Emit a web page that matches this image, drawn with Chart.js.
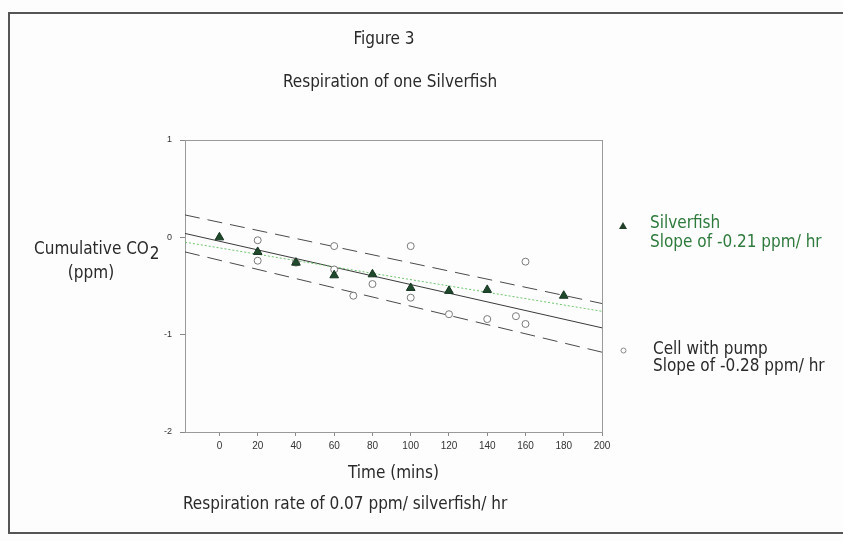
<!DOCTYPE html>
<html>
<head>
<meta charset="utf-8">
<script src="https://cdn.jsdelivr.net/npm/chart.js@4/dist/chart.umd.min.js"></script>
<style>
  html, body { margin: 0; padding: 0; background: #fdfdfd; }
  #wrap { position: relative; width: 843px; height: 541px; }
  #frame { position: absolute; left: 8px; top: 12px; width: 860px; height: 522px;
           border-left: 2px solid #555; border-top: 2px solid #555; border-bottom: 2px solid #555; box-sizing: border-box; }
  canvas { position: absolute; left: 0; top: 0; }
</style>
</head>
<body>
<div id="wrap">
  <div id="frame"></div>
  <canvas id="c" width="843" height="541"></canvas>
</div>
<script>
// ---- data ----
const xTickValues = [0, 20, 40, 60, 80, 100, 120, 140, 160, 180, 200];
const yTickValues = [-2, -1, 0, 1];

const silverfishTime = [0, 20, 40, 60, 80, 100, 120, 140, 180];
const silverfishCO2  = [0, -0.15, -0.26, -0.39, -0.38, -0.52, -0.55, -0.54, -0.60];

const cellTime = [20, 20, 40, 60, 60, 70, 80, 100, 100, 120, 140, 155, 160, 160];
const cellCO2  = [-0.03, -0.24, -0.26, -0.09, -0.33, -0.60, -0.48, -0.09, -0.62, -0.79, -0.84, -0.81, -0.25, -0.89];

const fitTime       = [-18, 200];
const cellFit       = [0.04, -0.93];
const cellUpper     = [0.23, -0.68];
const cellLower     = [-0.15, -1.18];
const silverfishFit = [-0.05, -0.76];

const titleText    = "Figure 3";
const subtitleText = "Respiration of one Silverfish";
const yTitleLines  = ["Cumulative CO", "(ppm)"];
const xTitleText   = "Time (mins)";
const footnoteText = "Respiration rate of 0.07 ppm/ silverfish/ hr";
const legendSilverfish = ["Silverfish", "Slope of -0.21 ppm/ hr"];
const legendCell       = ["Cell with pump", "Slope of -0.28 ppm/ hr"];

const pts = (xs, ys) => xs.map((x, i) => ({ x: x, y: ys[i] }));

const FONT = "'Liberation Sans Narrow', 'DejaVu Sans Condensed', 'Open Sans', sans-serif";

const textPlugin = {
  id: 'texts',
  beforeDatasetsDraw(chart) {
    const { ctx, chartArea: a } = chart;
    ctx.save();
    ctx.strokeStyle = '#9a9a9a';
    ctx.lineWidth = 1;
    ctx.strokeRect(a.left + 0.5, a.top + 0.5, a.right - a.left, a.bottom - a.top);
    ctx.restore();
  },
  afterDraw(chart) {
    const { ctx, chartArea: a } = chart;
    ctx.save();
    ctx.textBaseline = 'middle';
    ctx.fillStyle = '#2a2a2a';
    ctx.font = '17px ' + FONT;
    ctx.textAlign = 'center';
    ctx.fillText(titleText, 384, 40);
    ctx.fillText(subtitleText, 390, 83);
    ctx.fillText(xTitleText, (a.left + a.right) / 2, 474);
    ctx.textAlign = 'left';
    ctx.fillText(footnoteText, 183, 505);
    // y title
    ctx.fillText(yTitleLines[0], 34, 250);
    const w = ctx.measureText(yTitleLines[0]).width;
    ctx.fillText('2', 34 + w + 1, 255);
    ctx.textAlign = 'center';
    ctx.fillText(yTitleLines[1], 91, 274);
    // legend
    ctx.textAlign = 'left';
    ctx.fillStyle = '#2e7a3c';
    ctx.fillText(legendSilverfish[0], 650, 224);
    ctx.fillText(legendSilverfish[1], 650, 243);
    ctx.fillStyle = '#2a2a2a';
    ctx.fillText(legendCell[0], 653, 350);
    ctx.fillText(legendCell[1], 653, 367);
    // legend symbols
    ctx.fillStyle = '#1f3f27';
    ctx.beginPath();
    ctx.moveTo(623, 222); ctx.lineTo(627, 229); ctx.lineTo(619, 229); ctx.closePath();
    ctx.fill();
    ctx.strokeStyle = '#888';
    ctx.lineWidth = 1;
    ctx.beginPath();
    ctx.arc(623.5, 350.5, 2.5, 0, Math.PI * 2);
    ctx.stroke();
    ctx.restore();
  }
};

const lineDs = (label, ys, color, dash, order) => ({
  type: 'line', label, data: pts(fitTime, ys), borderColor: color, borderWidth: 1,
  borderDash: dash, pointRadius: 0, fill: false, order
});

new Chart(document.getElementById('c'), {
  type: 'scatter',
  data: {
    datasets: [
      {
        label: 'Silverfish', data: pts(silverfishTime, silverfishCO2),
        pointStyle: 'triangle', pointRadius: 5, backgroundColor: '#1f4a2c', borderColor: '#163320',
        borderWidth: 1, order: 0
      },
      {
        label: 'Cell with pump', data: pts(cellTime, cellCO2),
        pointStyle: 'circle', pointRadius: 3.5, backgroundColor: '#ffffff', borderColor: '#7a7a7a',
        borderWidth: 1, order: 1
      },
      lineDs('Cell fit', cellFit, '#3a3a3a', [], 3),
      lineDs('Upper band', cellUpper, '#4a4a4a', [15, 8], 3),
      lineDs('Lower band', cellLower, '#4a4a4a', [15, 8], 3),
      lineDs('Silverfish fit', silverfishFit, '#6cc46c', [2, 2], 2)
    ]
  },
  options: {
    responsive: false,
    animation: false,
    layout: { padding: { left: 0, right: 241, top: 140, bottom: 80 } },
    plugins: { legend: { display: false }, tooltip: { enabled: false }, title: { display: false } },
    scales: {
      x: {
        type: 'linear', min: -18, max: 200,
        afterBuildTicks: s => { s.ticks = xTickValues.map(v => ({ value: v })); },
        afterFit: s => { s.height = 29; },
        grid: { display: true, drawOnChartArea: false, drawTicks: true, tickLength: 4, color: '#888' },
        border: { display: false },
        ticks: { color: '#333', font: { family: "'Liberation Sans', Arial, sans-serif", size: 10 }, padding: 4, maxRotation: 0 }
      },
      y: {
        type: 'linear', min: -2, max: 1,
        afterBuildTicks: s => { s.ticks = yTickValues.map(v => ({ value: v })); },
        afterFit: s => { s.width = 185; },
        grid: { display: true, drawOnChartArea: false, drawTicks: true, tickLength: 5, color: '#888' },
        border: { display: false },
        ticks: { color: '#333', font: { family: "'Liberation Sans', Arial, sans-serif", size: 9 }, padding: 8 }
      }
    }
  },
  plugins: [textPlugin]
});
</script>
</body>
</html>
